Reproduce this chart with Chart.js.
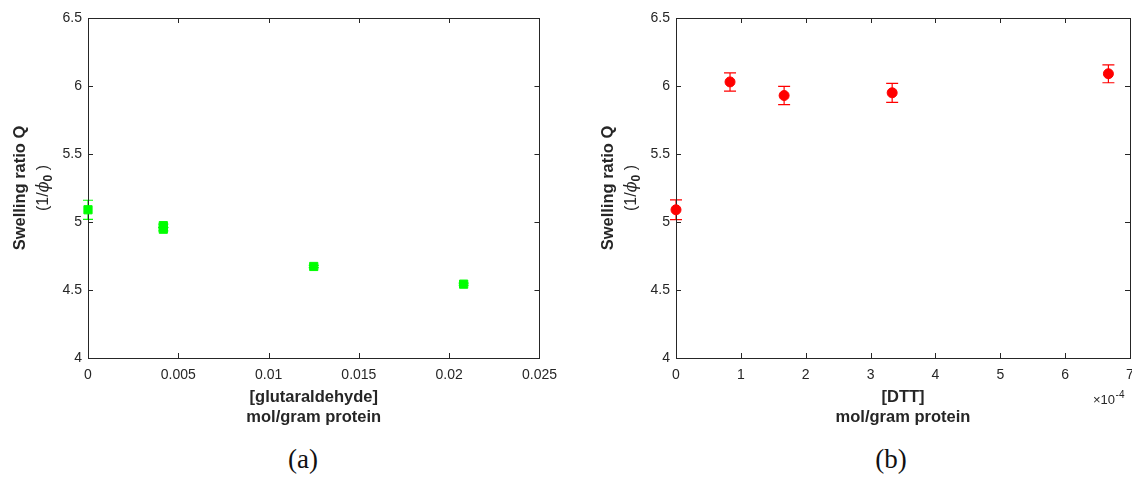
<!DOCTYPE html>
<html>
<head>
<meta charset="utf-8">
<script src="https://cdn.jsdelivr.net/npm/chart.js@4/dist/chart.umd.min.js"></script>
<style>
  body { margin: 0; background: #fff; width: 1132px; height: 479px; overflow: hidden; position: relative; }
  canvas { position: absolute; top: 0; }
  #chartA { left: 0; }
  #chartB { left: 566px; }
  .cap { position: absolute; top: 444px; width: 80px; margin-left: -40px; text-align: center;
         font-family: "Liberation Serif", "DejaVu Serif", serif; font-size: 27px; color: #111; }
</style>
</head>
<body>
<canvas id="chartA" width="566" height="430"></canvas>
<canvas id="chartB" width="580" height="430"></canvas>
<div class="cap" style="left:303px">(a)</div>
<div class="cap" style="left:891px">(b)</div>
<script>
// datos
const glutConc = [0, 0.00417, 0.00417, 0.0125, 0.0208];
const glutQ = [5.09, 4.973, 4.947, 4.673, 4.543];
const glutErr = [0.07, 0.012, 0.012, 0.008, 0.008];

const dttConc = [0, 0.833, 1.667, 3.333, 6.667]; // en unidades de 1e-4 mol/g
const dttQ = [5.09, 6.03, 5.93, 5.95, 6.09];
const dttErr = [0.072, 0.067, 0.067, 0.07, 0.066];

const yTicks = ["4", "4.5", "5", "5.5", "6", "6.5"];
const glutTicks = ["0", "0.005", "0.01", "0.015", "0.02", "0.025"];
const dttTicks = ["0", "1", "2", "3", "4", "5", "6", "7"];

const axisColor = "#262626";
const fam = "Liberation Sans, Arial, sans-serif";
const tickFont = { family: fam, size: 14 };
const titleFont = { family: fam, size: 16.5, weight: "bold" };

// barras de error (dibujadas antes de los marcadores)
const errorBars = {
    id: "errorBars",
    beforeDatasetsDraw(chart) {
        const { ctx, scales: { x, y } } = chart;
        chart.data.datasets.forEach(ds => {
            ctx.save();
            ctx.strokeStyle = ds.borderColor;
            ctx.lineWidth = 1.2;
            ds.data.forEach((p, i) => {
                const e = ds.errors[i];
                const px = x.getPixelForValue(p.x);
                const yt = y.getPixelForValue(p.y + e);
                const yb = y.getPixelForValue(p.y - e);
                const w = ds.capWidth / 2;
                ctx.beginPath();
                ctx.moveTo(px, yt); ctx.lineTo(px, yb);
                ctx.moveTo(px - w, yt); ctx.lineTo(px + w, yt);
                ctx.moveTo(px - w, yb); ctx.lineTo(px + w, yb);
                ctx.stroke();
            });
            ctx.restore();
        });
    }
};

// caja y ticks hacia adentro (estilo MATLAB)
const boxTicks = {
    id: "boxTicks",
    beforeDatasetsDraw(chart) {
        const { ctx, chartArea: a, scales: { x, y } } = chart;
        const len = 5;
        ctx.save();
        ctx.strokeStyle = axisColor;
        ctx.lineWidth = 1;
        ctx.strokeRect(Math.round(a.left) + 0.5, Math.round(a.top) + 0.5,
            Math.round(a.right - a.left), Math.round(a.bottom - a.top));
        ctx.beginPath();
        x.ticks.forEach(t => {
            const px = Math.round(x.getPixelForValue(t.value)) + 0.5;
            ctx.moveTo(px, a.bottom); ctx.lineTo(px, a.bottom - len);
            ctx.moveTo(px, a.top); ctx.lineTo(px, a.top + len);
        });
        y.ticks.forEach(t => {
            const py = Math.round(y.getPixelForValue(t.value)) + 0.5;
            ctx.moveTo(a.left, py); ctx.lineTo(a.left + len, py);
            ctx.moveTo(a.right, py); ctx.lineTo(a.right - len, py);
        });
        ctx.stroke();

        // titulo del eje y: Swelling ratio Q / (1/phi_0)
        const cy = (a.top + a.bottom) / 2;
        ctx.fillStyle = axisColor;
        ctx.textBaseline = "middle";
        ctx.translate(a.left - 68, cy);
        ctx.rotate(-Math.PI / 2);
        ctx.textAlign = "center";
        ctx.font = "bold 16.5px " + fam;
        ctx.fillText("Swelling ratio Q", 0, 0);
        const parts = [
            { t: "(1/", f: "16px " + fam, dy: 0 },
            { t: "\u03d5", f: "italic 16px DejaVu Serif, serif", dy: 0 },
            { t: "0", f: "bold 12px " + fam, dy: 5 },
            { t: " )", f: "16px " + fam, dy: 0 }
        ];
        let total = 0;
        parts.forEach(p => { ctx.font = p.f; p.w = ctx.measureText(p.t).width; total += p.w; });
        let xx = -total / 2;
        ctx.textAlign = "left";
        parts.forEach(p => {
            ctx.font = p.f;
            ctx.fillText(p.t, xx, 24 + p.dy);
            xx += p.w;
        });
        ctx.restore();
    }
};

const multiplier = {
    id: "multiplier",
    afterDraw(chart) {
        const { ctx, chartArea: a } = chart;
        ctx.save();
        ctx.fillStyle = axisColor;
        ctx.textBaseline = "alphabetic";
        ctx.font = "13px " + fam;
        const x0 = a.right - 37;
        const y0 = a.bottom + 46;
        ctx.fillText("\u00d710", x0, y0);
        const w = ctx.measureText("\u00d710").width;
        ctx.font = "10px " + fam;
        ctx.fillText("-4", x0 + w + 0.5, y0 - 6);
        ctx.restore();
    }
};

function makeOptions(xMin, xMax, xStep, xLabels, xTitle, padLeft, padRight) {
    return {
        responsive: false,
        animation: false,
        devicePixelRatio: 1,
        layout: { padding: { top: 18, right: padRight, bottom: 0, left: padLeft } },
        plugins: { legend: { display: false }, tooltip: { enabled: false } },
        scales: {
            x: {
                type: "linear",
                min: xMin,
                max: xMax,
                afterFit(s) { s.height = 72; },
                afterBuildTicks(s) { s.ticks = xLabels.map((l, i) => ({ value: xMin + i * xStep })); },
                ticks: {
                    color: axisColor, font: tickFont, padding: 9, maxRotation: 0, autoSkip: false,
                    callback: (v, i) => xLabels[i]
                },
                grid: { display: false, drawTicks: false },
                border: { display: false },
                title: {
                    display: true, text: xTitle, color: axisColor,
                    font: { ...titleFont, lineHeight: 1.25 }, padding: { top: 0, bottom: 2 }
                }
            },
            y: {
                min: 4,
                max: 6.5,
                afterFit(s) { s.width = 88; },
                afterBuildTicks(s) { s.ticks = yTicks.map((l, i) => ({ value: 4 + i * 0.5 })); },
                ticks: {
                    color: axisColor, font: tickFont, padding: 6, autoSkip: false,
                    callback: (v, i) => yTicks[i]
                },
                grid: { display: false, drawTicks: false },
                border: { display: false },
                title: { display: false }
            }
        }
    };
}

new Chart(document.getElementById("chartA"), {
    type: "scatter",
    data: {
        datasets: [{
            data: glutConc.map((c, i) => ({ x: c, y: glutQ[i] })),
            errors: glutErr,
            capWidth: 10,
            clip: false,
            pointStyle: "rect",
            pointRadius: 5.8,
            borderWidth: 1,
            backgroundColor: "#00ff00",
            borderColor: "#00ff00"
        }]
    },
    options: makeOptions(0, 0.025, 0.005, glutTicks, ["[glutaraldehyde]", "mol/gram protein"], 0, 24),
    plugins: [errorBars, boxTicks]
});

new Chart(document.getElementById("chartB"), {
    type: "scatter",
    data: {
        datasets: [{
            data: dttConc.map((c, i) => ({ x: c, y: dttQ[i] })),
            errors: dttErr,
            capWidth: 12,
            clip: false,
            pointStyle: "circle",
            pointRadius: 5,
            borderWidth: 1,
            backgroundColor: "#ff0000",
            borderColor: "#ff0000"
        }]
    },
    options: makeOptions(0, 7, 1, dttTicks, ["[DTT]", "mol/gram protein"], 22, 16),
    plugins: [errorBars, boxTicks, multiplier]
});
</script>
</body>
</html>
